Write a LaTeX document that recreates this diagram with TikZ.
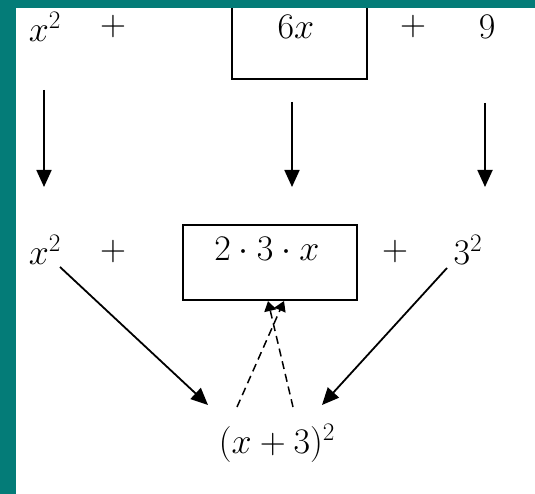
\documentclass[tikz,border=0pt]{standalone}
\usepackage{fix-cm}
\usetikzlibrary{arrows.meta}
\definecolor{slideteal}{RGB}{4,124,120}

\begin{document}
\begin{tikzpicture}[x=1pt, y=-1pt,
    term/.style={inner sep=0pt, font=\fontsize{36}{42}\selectfont},
    frame/.style={draw, line width=1.8pt, inner sep=0pt},
    arr/.style={-{Triangle[length=17pt,width=15pt]}, line width=1.8pt},
    dasharr/.style={-{Triangle[length=10pt,width=12pt]}, line width=1.5pt, dash pattern=on 8pt off 5pt}]
    \useasboundingbox (0,0) rectangle (535,494);
    \fill[white] (0,0) rectangle (535,494);

    % first row: x^2 + 6x + 9
    \node[term] (a1) at (45,27) {$x^2$};
    \node[term] (ap1) at (113,27) {$+$};
    \node[frame, minimum width=135pt, minimum height=90pt] (abox) at (299.5,34) {};
    \node[term] (a6x) at (296,27) {$6x$};
    \node[term] (ap2) at (413,27) {$+$};
    \node[term] (a9) at (487,27) {$9$};

    % second row: x^2 + 2*3*x + 3^2
    \node[term] (b1) at (45,250) {$x^2$};
    \node[term] (bp1) at (113,252) {$+$};
    \node[frame, minimum width=174pt, minimum height=75pt] (bbox) at (270,262.5) {};
    \node[term] (b23) at (267,249) {$2\cdot3\cdot x$};
    \node[term] (bp2) at (395,252) {$+$};
    \node[term] (b3) at (468,250) {$3^2$};

    % result
    \node[term] (res) at (277,443) {$(x+3)^2$};

    % arrow ends
    \coordinate (v1s) at (44,90);   \coordinate (v1e) at (44,187);
    \coordinate (v2s) at (292,102); \coordinate (v2e) at (292,187);
    \coordinate (v3s) at (485,103); \coordinate (v3e) at (485,187);
    \coordinate (d1s) at (60,267);  \coordinate (d1e) at (208,405);
    \coordinate (d2s) at (447,268); \coordinate (d2e) at (322,405);
    \coordinate (e1s) at (237,407); \coordinate (e1e) at (284,301);
    \coordinate (e2s) at (293,407); \coordinate (e2e) at (268,301);

    % down arrows
    \draw[arr] (v1s) -- (v1e);
    \draw[arr] (v2s) -- (v2e);
    \draw[arr] (v3s) -- (v3e);

    % arrows to the square
    \draw[arr] (d1s) -- (d1e);
    \draw[arr] (d2s) -- (d2e);
    \draw[dasharr] (e1s) -- (e1e);
    \draw[dasharr] (e2s) -- (e2e);

    % slide border
    \fill[slideteal] (0,0) rectangle (535,8);
    \fill[slideteal] (0,0) rectangle (16,494);
\end{tikzpicture}
\end{document}
